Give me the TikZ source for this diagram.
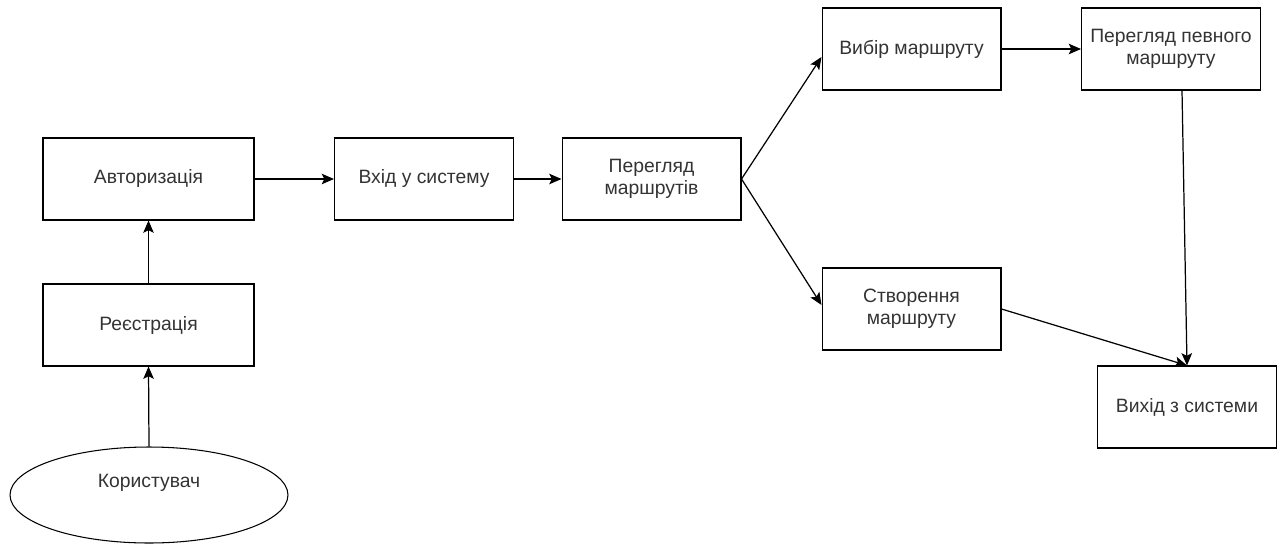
\documentclass[tikz,border=0pt]{standalone}
\usepackage{fontspec}
\setmainfont{Liberation Sans}
\usetikzlibrary{shapes.geometric,arrows.meta}

\begin{document}
\begin{tikzpicture}
  [x=0.02cm,y=-0.02cm,
   every node/.style={draw,line width=0.6pt,text=black!80,align=center,
     font=\fontsize{11}{12.5}\selectfont,minimum width=3.58cm,minimum height=1.64cm},
   wide/.style={minimum width=4.22cm},
   oval/.style={ellipse,minimum width=5.56cm,minimum height=1.92cm,text height=0.3cm,text depth=0.62cm},
   arr/.style={-{Stealth[length=7pt,width=6pt,inset=1.5pt]},line width=0.7pt}]
  \useasboundingbox (0,0) rectangle (1283,544);

  \node[wide] (avt) at (148.5,179) {Авторизація};
  \node[wide] (reg) at (148.5,325) {Реєстрація};
  \node[oval] (kor) at (149,495) {Користувач};
  \node (vhid) at (424,179) {Вхід у систему};
  \node (pereg) at (651.5,179) {Перегляд\\маршрутів};
  \node (vybir) at (911.5,49) {Вибір маршруту};
  \node (pevn) at (1171,49) {Перегляд певного\\маршруту};
  \node (stvor) at (911.5,309) {Створення\\маршруту};
  \node (vyhid) at (1187,407) {Вихід з системи};

  \foreach \from/\to in {kor/reg,reg/avt}
    \draw[arr] (\from.north) -- (\to.south);
  \foreach \from/\to in {avt/vhid,vhid/pereg,vybir/pevn}
    \draw[arr] (\from.east) -- (\to.west);
  \draw[arr] (pereg.east) -- ([yshift=-0.16cm]vybir.west);
  \draw[arr] (pereg.east) -- ([yshift=0.08cm]stvor.west);
  \draw[arr] ([xshift=0.22cm]pevn.south) -- (vyhid.north);
  \draw[arr] (stvor.east) -- (vyhid.north);
\end{tikzpicture}
\end{document}
